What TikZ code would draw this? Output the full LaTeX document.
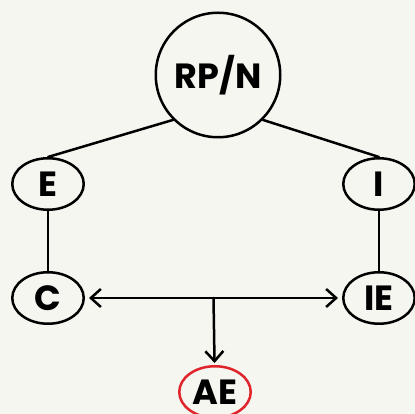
\documentclass[tikz,border=0pt]{standalone}
\usepackage{fontspec}
\setmainfont{Poppins}
\usetikzlibrary{arrows.meta,shapes.geometric}
\definecolor{nen}{RGB}{246,246,241}
\definecolor{do}{RGB}{224,36,44}
\begin{document}
\begin{tikzpicture}[x=1pt,y=1pt,>={Straight Barb[length=10pt,width=18pt]},line join=round,line cap=round,
	font=\bfseries\fontsize{35}{35}\selectfont,line width=2.5pt,
	tron/.style={draw,circle,inner sep=0pt,minimum size=124.5pt},
	elip/.style={draw,ellipse,inner sep=0pt,minimum width=71.5pt,minimum height=51.5pt}]
			\def\xt{48}
			\def\xp{379}
			\fill[nen] (0,0) rectangle (415,414); % Nền
			\useasboundingbox (0,0) rectangle (415,414);
			\node[tron] (RPN) at (218,339) {RP/N};
			\node[elip] (E) at (\xt,230) {E};
			\node[elip] (I) at (\xp,230) {I};
			\node[elip] (C) at (\xt,116) {C};
			\node[elip] (IE) at (\xp,116) {IE};
			\node[elip,draw=do] (AE) at (215,22) {AE};
			\draw (RPN.south west)--(E.north) (RPN.south east)--(I.north); % Nhánh trái, nhánh phải
			\draw (E)--(C) (I)--(IE);
			\draw[<->,shorten <=4pt,shorten >=4pt] (C)--(IE) coordinate[midway] (giua);
			\draw[->,shorten >=2pt] (giua)--(AE);
		\end{tikzpicture}
\end{document}
